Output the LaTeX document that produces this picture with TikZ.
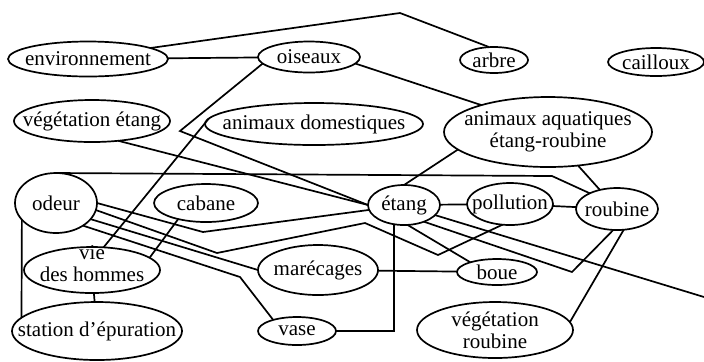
\documentclass[tikz,border=0pt]{standalone}
\usepackage{fontspec}
\setmainfont{Liberation Serif}
\usetikzlibrary{shapes.geometric}
\tikzstyle{txt} = [inner sep=0, align=center, font=\fontsize{10.5}{11}\selectfont]
\tikzstyle{link} = [line width=0.85pt]
\tikzset{bub/.style n args={3}{ellipse, draw, line width=0.85pt, inner sep=0, outer sep=0,
    minimum width=#1, minimum height=#2, label={[txt]center:{#3}}}}

\begin{document}
\begin{tikzpicture}[x=0.5pt, y=-0.5pt]
\useasboundingbox (0,0) rectangle (704,361);

%%% concepts
\node[bub={80pt}{17.5pt}{environnement}] (env) at (88,59) {};
\node[bub={51pt}{15.5pt}{oiseaux}] (ois) at (309,57) {};
\node[bub={34pt}{13pt}{arbre}] (arbre) at (494,60) {};
\node[bub={48pt}{14pt}{cailloux}] (caill) at (656,62) {};
\node[bub={78pt}{21pt}{végétation étang}] (vegE) at (92,121) {};
\node[bub={109pt}{21pt}{animaux domestiques}] (dom) at (314,124) {};
\node[bub={104pt}{35pt}{animaux aquatiques\\étang-roubine}] (aqua) at (548,132) {};
\node[bub={41pt}{30pt}{odeur}] (odeur) at (56,203) {};
\node[bub={52pt}{19pt}{cabane}] (cabane) at (206,203) {};
\node[bub={68pt}{23pt}{vie\\des hommes\rule[-6pt]{0pt}{6pt}}] (vie) at (92,270) {};
\node[bub={85pt}{29pt}{station d’épuration}] (stat) at (97,331) {};
\node[bub={36pt}{20pt}{étang}] (etang) at (404,205) {};
\node[bub={43pt}{21pt}{pollution}] (poll) at (510,204) {};
\node[bub={41pt}{21pt}{roubine}] (roub) at (617,209) {};
\node[bub={60pt}{25pt}{marécages}] (mar) at (318,270) {};
\node[bub={40pt}{13pt}{boue}] (boue) at (497,272) {};
\node[bub={39pt}{14pt}{vase}] (vase) at (297,331) {};
\node[bub={78pt}{28pt}{végétation\\roubine}] (vegR) at (495,330) {};
\coordinate (out) at (704,297);

%%% links
\draw[link] (env.10) -- (400,13) -- (arbre.110);
\draw[link] (env) -- (ois);
\draw[link] (ois.-8) -- (aqua.158);
\draw[link] (ois.188) -- (180,131) -- (etang.west);
\draw[link] (dom.177) -- (vie.63);
\draw[link] (vegE.-37) -- (etang.west);
\draw[link] (odeur.north) -- (552,176) -- (roub.150);
\draw[link] (aqua.191) -- (etang.north);
\draw[link] (aqua) -- (roub);
\draw[link] (odeur.east) -- (203,232) -- (etang.188);
\draw[link] (odeur.-10) -- (217,253) -- (365,223) -- (438,255) -- (poll.-110);
\draw[link] (odeur.-25) -- (mar.west);
\draw[link] (odeur.-40) -- (240,277) -- (vase.155);
\draw[link] (odeur.206) -- (stat.170);
\draw[link] (cabane.210) -- (vie.12);
\draw[link] (vie) -- (stat);
\draw[link] (vase.east) -| (etang.-118);
\draw[link] (mar) -- (boue);
\draw[link] (etang.-80) -- (boue.160);
\draw[link] (etang) -- (poll);
\draw[link] (poll) -- (roub);
\draw[link] (etang.-40) -- (572,272) -- (roub.-100);
\draw[link] (etang.-18) -- (out);
\draw[link] (roub.-72) -- (vegR.6);

\end{tikzpicture}
\end{document}
